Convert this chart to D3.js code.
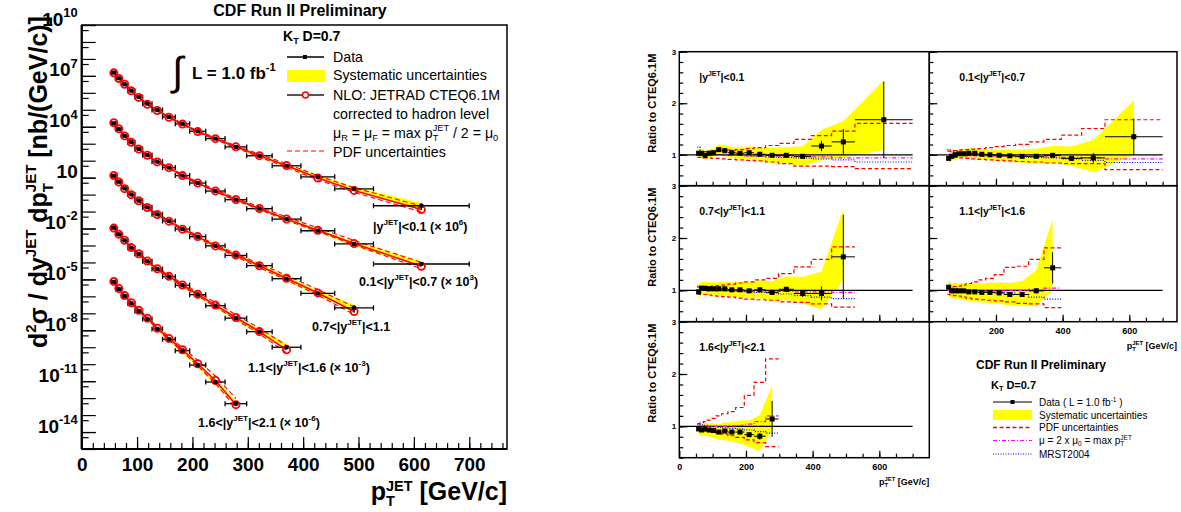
<!DOCTYPE html>
<html><head><meta charset="utf-8">
<script src="https://d3js.org/d3.v7.min.js"></script>
<style>body{margin:0;background:#fff;} text{font-family:"Liberation Sans",Arial,Helvetica,sans-serif;}</style>
</head><body><svg id="c" width="1181" height="512"></svg>
<script>
// ---------------- DATA ----------------
const binEdges   = [54,62,72,83,96,110,127,146,169,195,224,259,298,344,396,457,527,700];
const binCenters = [58,67,77.5,89.5,103,118.5,136.5,157.5,182,209.5,241.5,278.5,321,370,426.5,492,613.5];
const rapidityLabels = ["|y^JET|<0.1","0.1<|y^JET|<0.7","0.7<|y^JET|<1.1","1.1<|y^JET|<1.6","1.6<|y^JET|<2.1"];
const scaleExps = [6, 3, null, -3, -6];
const yTickExps = [10,7,4,1,-2,-5,-8,-11,-14];
const xTickLabels = [0,100,200,300,400,500,600,700];
const ratioXTickLabels = [0,200,400,600];
const ratioYTickLabels = [1,2,3];

// cross sections (already multiplied by the scale factor), nb/(GeV/c)
const xsec1 = [1.55e7,7.2e6,3.2e6,1.35e6,5.6e5,2.3e5,9.8e4,3.8e4,1.48e4,5.4e3,2.0e3,650,195,50,11.2,2.2,0.22];
const xsec2 = [1.6e4,7.4e3,2.9e3,1.23e3,490,214,87,39,13.2,4.8,1.62,0.5,0.148,0.036,0.0074,0.00123,8.1e-5];
const xsec3 = [12.9,5.75,2.34,1.02,0.44,0.178,0.069,0.0275,0.0093,0.0033,9.5e-4,2.6e-4,6.5e-5,1.1e-5,1.5e-6,2.1e-7];
const xsec4 = [0.0112,0.0046,2.0e-3,7.4e-4,3.2e-4,1.17e-4,4.1e-5,1.45e-5,4.5e-6,1.26e-6,2.8e-7,5.2e-8,8.3e-9,1.0e-9];
const xsec5 = [7.2e-6,2.7e-6,1.05e-6,3.9e-7,1.38e-7,4.6e-8,1.2e-8,2.95e-9,6.3e-10,8.9e-11,8.9e-12,4.7e-13];

// data / NLO (CTEQ6.1M)
const ratio1 = [1.03,1.03,0.99,1.03,1.04,1.10,1.08,1.04,1.03,1.04,1.01,0.99,0.99,0.97,1.17,1.25,1.68];
const ratio2 = [0.93,0.97,1.00,1.02,1.02,1.03,1.03,1.01,1.00,0.99,0.98,0.97,0.97,0.99,0.93,0.94,1.35];
const ratio3 = [0.97,1.04,1.04,1.03,1.03,1.03,1.03,1.01,1.01,0.99,1.01,0.96,1.02,0.94,0.94,1.64];
const ratio4 = [1.06,0.99,0.99,0.99,0.99,0.97,0.97,0.96,0.96,0.95,0.92,0.92,0.99,1.43];
const ratio5 = [0.95,0.93,0.95,0.93,0.92,0.89,0.91,0.89,0.89,0.84,0.81,1.14];

// relative statistical errors
const stat1 = [0.004,0.004,0.004,0.005,0.005,0.006,0.007,0.008,0.01,0.012,0.015,0.02,0.03,0.04,0.085,0.2,0.44];
const stat2 = [0.004,0.004,0.004,0.005,0.005,0.005,0.006,0.007,0.008,0.01,0.012,0.015,0.02,0.03,0.04,0.1,0.26];
const stat3 = [0.005,0.005,0.005,0.006,0.006,0.007,0.008,0.01,0.012,0.015,0.02,0.03,0.045,0.07,0.14,0.49];
const stat4 = [0.005,0.005,0.006,0.006,0.007,0.008,0.01,0.012,0.015,0.02,0.03,0.04,0.05,0.21];
const stat5 = [0.006,0.007,0.008,0.009,0.01,0.012,0.015,0.02,0.03,0.04,0.08,0.3];

// relative systematic uncertainties
const sysUp1 = [0.09,0.09,0.08,0.08,0.08,0.09,0.10,0.10,0.11,0.12,0.13,0.15,0.16,0.20,0.27,0.32,0.46];
const sysDn1 = [0.09,0.09,0.08,0.08,0.08,0.09,0.10,0.10,0.11,0.12,0.13,0.15,0.16,0.20,0.23,0.24,0.35];
const sysUp2 = [0.10,0.09,0.09,0.08,0.08,0.09,0.09,0.10,0.10,0.11,0.12,0.13,0.15,0.18,0.25,0.37,0.52];
const sysDn2 = [0.10,0.09,0.09,0.08,0.08,0.09,0.09,0.10,0.10,0.11,0.12,0.13,0.15,0.15,0.15,0.30,0.26];
const sysUp3 = [0.15,0.12,0.12,0.12,0.12,0.12,0.13,0.14,0.15,0.16,0.18,0.22,0.24,0.34,0.44,0.56];
const sysDn3 = [0.13,0.12,0.12,0.12,0.12,0.12,0.13,0.13,0.14,0.15,0.16,0.18,0.20,0.20,0.32,0.27];
const sysUp4 = [0.12,0.15,0.15,0.15,0.16,0.16,0.17,0.18,0.19,0.21,0.24,0.28,0.40,0.65];
const sysDn4 = [0.16,0.14,0.15,0.16,0.17,0.18,0.19,0.20,0.21,0.22,0.23,0.24,0.30,0.30];
const sysUp5 = [0.12,0.12,0.13,0.14,0.15,0.16,0.18,0.21,0.25,0.32,0.50,0.56];
const sysDn5 = [0.12,0.12,0.13,0.14,0.15,0.17,0.19,0.21,0.24,0.28,0.35,0.18];

// PDF uncertainty band (ratio to central CTEQ6.1M)
const pdfUp1 = [1.05,1.05,1.06,1.06,1.07,1.07,1.08,1.09,1.10,1.12,1.14,1.18,1.22,1.30,1.37,1.46,1.61];
const pdfDn1 = [0.95,0.95,0.94,0.94,0.93,0.93,0.92,0.91,0.90,0.89,0.88,0.86,0.83,0.78,0.78,0.77,0.73];
const pdfUp2 = [1.07,1.07,1.08,1.09,1.10,1.10,1.11,1.12,1.14,1.16,1.18,1.20,1.25,1.30,1.38,1.51,1.68];
const pdfDn2 = [0.96,0.95,0.95,0.94,0.94,0.93,0.92,0.91,0.90,0.89,0.88,0.87,0.86,0.84,0.83,0.83,0.71];
const pdfUp3 = [1.06,1.06,1.07,1.07,1.08,1.09,1.10,1.12,1.14,1.16,1.20,1.23,1.32,1.45,1.59,1.83];
const pdfDn3 = [0.93,0.92,0.92,0.91,0.90,0.89,0.88,0.87,0.85,0.83,0.82,0.81,0.78,0.77,0.74,0.68];
const pdfUp4 = [1.05,1.06,1.07,1.08,1.10,1.13,1.16,1.20,1.23,1.30,1.44,1.46,1.59,1.81];
const pdfDn4 = [0.92,0.91,0.90,0.89,0.87,0.85,0.83,0.82,0.81,0.80,0.78,0.75,0.74,0.67];
const pdfUp5 = [1.05,1.07,1.09,1.12,1.15,1.20,1.24,1.28,1.36,1.59,1.84,2.29];
const pdfDn5 = [0.93,0.92,0.91,0.90,0.89,0.87,0.85,0.82,0.79,0.74,0.69,0.61];

// mu = 2 mu0 and MRST2004 ratios
const scale1 = [1.00,0.99,0.99,0.99,0.99,0.99,0.99,0.99,0.99,0.98,0.98,0.98,0.97,0.97,0.96,0.94,0.94];
const scale2 = [1.00,0.99,0.99,0.99,0.99,0.98,0.98,0.98,0.98,0.97,0.97,0.97,0.96,0.96,0.95,0.94,0.92];
const scale3 = [1.00,1.00,1.00,0.99,0.99,0.99,0.99,0.99,0.99,0.99,0.99,0.98,0.98,0.97,0.97,0.96];
const scale4 = [1.00,1.00,0.99,0.99,0.99,0.99,0.99,0.99,0.99,0.99,1.00,1.00,1.02,1.04];
const scale5 = [1.02,1.01,1.00,1.00,1.00,1.00,1.00,1.01,1.02,1.04,1.09,1.20];
const mrst1 = [1.15,1.06,1.03,1.02,1.01,1.00,1.00,0.99,0.99,0.98,0.97,0.96,0.95,0.94,0.92,0.90,0.86];
const mrst2 = [1.10,1.06,1.04,1.03,1.02,1.01,1.00,1.00,0.99,0.98,0.97,0.96,0.95,0.94,0.92,0.89,0.85];
const mrst3 = [1.08,1.05,1.04,1.03,1.02,1.01,1.00,0.99,0.98,0.97,0.96,0.95,0.93,0.90,0.87,0.84];
const mrst4 = [1.06,1.04,1.03,1.02,1.01,1.00,0.99,0.98,0.97,0.96,0.95,0.92,0.87,0.83];
const mrst5 = [1.04,1.03,1.02,1.00,0.99,0.98,0.97,0.96,0.95,0.93,0.90,0.87];

// ---------------- BUILD ----------------
const series = [
  {xs:xsec1, r:ratio1, st:stat1, su:sysUp1, sd:sysDn1, pu:pdfUp1, pd:pdfDn1, mu:scale1, mr:mrst1},
  {xs:xsec2, r:ratio2, st:stat2, su:sysUp2, sd:sysDn2, pu:pdfUp2, pd:pdfDn2, mu:scale2, mr:mrst2},
  {xs:xsec3, r:ratio3, st:stat3, su:sysUp3, sd:sysDn3, pu:pdfUp3, pd:pdfDn3, mu:scale3, mr:mrst3},
  {xs:xsec4, r:ratio4, st:stat4, su:sysUp4, sd:sysDn4, pu:pdfUp4, pd:pdfDn4, mu:scale4, mr:mrst4},
  {xs:xsec5, r:ratio5, st:stat5, su:sysUp5, sd:sysDn5, pu:pdfUp5, pd:pdfDn5, mu:scale5, mr:mrst5}
].map((s,k)=>{
  s.pts = s.xs.map((v,i)=>({x:binCenters[i], lo:binEdges[i], hi:binEdges[i+1], d:v, nlo:v/s.r[i],
    r:s.r[i], st:s.st[i], su:s.su[i], sd:s.sd[i], pu:s.pu[i], pd:s.pd[i], mu:s.mu[i], mr:s.mr[i]}));
  s.label = rapidityLabels[k]; s.exp = scaleExps[k];
  return s;
});

const svg = d3.select('#c');
const FONT = '"Liberation Sans",Arial,sans-serif';

// rich text helper: parts = [string | {t,k:'sup'|'sub'} | {sub,sup}]
function rich(txt, parts, fs, ss, supF) {
  ss = ss || 0.65; supF = supF || 0.45;
  let cur = 0;
  const SUB = fs*0.22, SUP = -fs*supF;
  parts.forEach(p=>{
    if (typeof p === 'string') p = {t:p, k:'n'};
    if (p.sub !== undefined) {
      const a = txt.append('tspan').attr('dy', SUB-cur).attr('font-size', fs*ss).text(p.sub);
      const w = a.node().getComputedTextLength();
      txt.append('tspan').attr('dy', SUP-SUB).attr('dx', -w).attr('font-size', fs*ss).text(p.sup);
      cur = SUP;
    } else {
      const off = p.k==='sup' ? SUP : p.k==='sub' ? SUB : 0;
      txt.append('tspan').attr('dy', off-cur).attr('font-size', p.k==='n'?fs:fs*ss).text(p.t);
      cur = off;
    }
  });
  return txt;
}
function rapParts(lbl) {
  const [a,b] = lbl.split('^JET');
  return [a, {t:'JET',k:'sup'}, b];
}
function styleAxis(g){ g.select('.domain').remove(); g.selectAll('line').attr('stroke','#000').attr('stroke-width',1.2); }

// ================= LEFT PANEL =================
const xL = d3.scaleLinear().domain([0,770]).range([81.7,508]);
const yL = d3.scaleLog().domain([1e-15,1e10]).range([449,25]);
const L = svg.append('g');

const yMinor = d3.axisLeft(yL).tickValues(d3.range(-15,10).map(e=>5*Math.pow(10,e))).tickSize(-7).tickFormat('');
const yMid   = d3.axisLeft(yL).tickValues(d3.range(-15,11).map(e=>Math.pow(10,e))).tickSize(-14).tickFormat('');
const yMajor = d3.axisLeft(yL).tickValues(yTickExps.map(e=>Math.pow(10,e))).tickSize(-14).tickPadding(4);
const xMinor = d3.axisBottom(xL).tickValues(d3.range(0,770,20)).tickSize(-6).tickFormat('');
const xMajor = d3.axisBottom(xL).tickValues(xTickLabels).tickSize(-12).tickPadding(9).tickFormat(d3.format('d'));
L.append('g').attr('transform',`translate(${xL(0)},0)`).call(yMinor).call(styleAxis);
L.append('g').attr('transform',`translate(${xL(0)},0)`).call(yMid).call(styleAxis);
const ym = L.append('g').attr('transform',`translate(${xL(0)},0)`).call(yMajor).call(styleAxis);
ym.selectAll('text').each(function(d){
  const t = d3.select(this); const e = Math.round(Math.log10(d));
  t.text('').attr('font-family',FONT).attr('font-weight','bold').attr('fill','#000').attr('dy','0.4em');
  if (e===1) rich(t,['10'],19); else rich(t,['10',{t:String(e),k:'sup'}],19,0.68);
});
L.append('g').attr('transform',`translate(0,449)`).call(xMinor).call(styleAxis);
const xm = L.append('g').attr('transform',`translate(0,449)`).call(xMajor).call(styleAxis);
xm.selectAll('text').attr('font-family',FONT).attr('font-weight','bold').attr('font-size',19).attr('fill','#000');

// frame
L.append('rect').attr('x',xL(0)).attr('y',25).attr('width',507-xL(0)).attr('height',424)
  .attr('fill','none').attr('stroke','#000').attr('stroke-width',1.5);
L.append('line').attr('x1',xL(0)).attr('x2',xL(0)).attr('y1',25).attr('y2',449).attr('stroke','#000').attr('stroke-width',2.2);
L.append('line').attr('x1',xL(0)).attr('x2',507).attr('y1',449).attr('y2',449).attr('stroke','#000').attr('stroke-width',2.2);

const areaL = d3.area().x(p=>xL(p.x)).y0(p=>yL(p.d*(1-p.sd))).y1(p=>yL(p.d*(1+p.su)));
const lineL = acc => d3.line().x(p=>xL(p.x)).y(acc);
series.forEach(s=>{
  const g = L.append('g');
  g.append('path').attr('d',areaL(s.pts)).attr('fill','#ffff00');
  g.append('path').attr('d',lineL(p=>yL(p.nlo*p.pu))(s.pts)).attr('fill','none').attr('stroke','#ff0000').attr('stroke-width',1.1).attr('stroke-dasharray','5,3');
  g.append('path').attr('d',lineL(p=>yL(p.nlo*p.pd))(s.pts)).attr('fill','none').attr('stroke','#ff0000').attr('stroke-width',1.1).attr('stroke-dasharray','5,3');
  g.append('path').attr('d',lineL(p=>yL(p.nlo))(s.pts)).attr('fill','none').attr('stroke','#ff0000').attr('stroke-width',1.6);
  const e = g.selectAll('g.e').data(s.pts).join('g');
  e.append('line').attr('x1',p=>xL(p.lo)).attr('x2',p=>xL(p.hi)).attr('y1',p=>yL(p.d)).attr('y2',p=>yL(p.d)).attr('stroke','#000').attr('stroke-width',1.3);
  e.append('line').attr('x1',p=>xL(p.lo)).attr('x2',p=>xL(p.lo)).attr('y1',p=>yL(p.d)-2.5).attr('y2',p=>yL(p.d)+2.5).attr('stroke','#000').attr('stroke-width',1.3);
  e.append('line').attr('x1',p=>xL(p.hi)).attr('x2',p=>xL(p.hi)).attr('y1',p=>yL(p.d)-2.5).attr('y2',p=>yL(p.d)+2.5).attr('stroke','#000').attr('stroke-width',1.3);
  e.append('line').attr('x1',p=>xL(p.x)).attr('x2',p=>xL(p.x)).attr('y1',p=>yL(p.d*(1+p.st))).attr('y2',p=>yL(p.d*(1-p.st))).attr('stroke','#000').attr('stroke-width',1.3);
  e.append('circle').attr('cx',p=>xL(p.x)).attr('cy',p=>yL(p.nlo)).attr('r',3.6).attr('fill','none').attr('stroke','#ff0000').attr('stroke-width',1.8);
  e.append('rect').attr('x',p=>xL(p.x)-2).attr('y',p=>yL(p.d)-2).attr('width',4).attr('height',4).attr('fill','#000');
});

// series labels
const labPos = [[373,231],[359,286],[312,331],[248,372],[198,427]];
series.forEach((s,k)=>{
  const t = L.append('text').attr('x',labPos[k][0]).attr('y',labPos[k][1]).attr('font-weight','bold').attr('font-size',12.5);
  const parts = rapParts(s.label);
  if (s.exp!==null) parts.push(' (\u00d7 10',{t:String(s.exp),k:'sup'},')');
  rich(t, parts, 12.5);
});

// title
L.append('text').attr('x',300).attr('y',16).attr('text-anchor','middle').attr('font-weight','bold').attr('font-size',16).text('CDF Run II Preliminary');

// y title
const yt = L.append('text').attr('transform','translate(47,182) rotate(-90)').attr('text-anchor','middle').attr('font-weight','bold').attr('font-size',25);
rich(yt, ['d',{t:'2',k:'sup'},'\u03c3 / dy',{t:'JET',k:'sup'},' dp',{sub:'T',sup:'JET'},' [nb/(GeV/c)]'], 25, 0.6);
// x title
const xt = L.append('text').attr('x',507).attr('y',500).attr('text-anchor','end').attr('font-weight','bold').attr('font-size',25);
rich(xt, ['p',{sub:'T',sup:'JET'},' [GeV/c]'], 25, 0.58, 0.38);

// integral luminosity
L.append('text').attr('x',172).attr('y',85).attr('font-size',40).attr('font-family','"DejaVu Sans",sans-serif').text('\u222b');
rich(L.append('text').attr('x',192).attr('y',79).attr('font-weight','bold').attr('font-size',17), ['L = 1.0 fb',{t:'-1',k:'sup'}], 17);

// legend
rich(L.append('text').attr('x',283).attr('y',41).attr('font-weight','bold').attr('font-size',14), ['K',{t:'T',k:'sub'},'  D=0.7'], 14);
L.append('line').attr('x1',287).attr('x2',324).attr('y1',57).attr('y2',57).attr('stroke','#000').attr('stroke-width',1.3);
L.append('rect').attr('x',303).attr('y',55).attr('width',4).attr('height',4).attr('fill','#000');
L.append('rect').attr('x',287).attr('y',70).attr('width',38).attr('height',12).attr('fill','#ffff00');
L.append('line').attr('x1',287).attr('x2',324).attr('y1',95).attr('y2',95).attr('stroke','#555').attr('stroke-width',2);
L.append('circle').attr('cx',305.5).attr('cy',95).attr('r',3).attr('fill','#fff').attr('stroke','#ff0000').attr('stroke-width',1.5);
L.append('line').attr('x1',287).attr('x2',324).attr('y1',151).attr('y2',151).attr('stroke','#ff0000').attr('stroke-width',1.2).attr('stroke-dasharray','5,3');
const lg = [['Data',62],['Systematic uncertainties',80],['NLO: JETRAD CTEQ6.1M',100],['corrected to hadron level',119],[null,137.5],['PDF uncertainties',156.5]];
lg.forEach(([s,y])=>{
  const t = L.append('text').attr('x',333).attr('y',y).attr('font-size',14.2);
  if (s) t.text(s);
  else rich(t, ['\u03bc',{t:'R',k:'sub'},' = \u03bc',{t:'F',k:'sub'},' = max p',{sub:'T',sup:'JET'},' / 2 = \u03bc',{t:'0',k:'sub'}], 14.2);
});

// ================= RIGHT PANELS =================
const colX = [[679.3,929.3],[929.3,1177]];
const rowY = [[51.7,185.7],[185.7,321.7],[321.7,457.7]];
const panelPos = [[0,0],[1,0],[0,1],[1,1],[0,2]];
const R = svg.append('g');
series.forEach((s,k)=>{
  const [c,r] = panelPos[k];
  const [x0,x1] = colX[c], [y0,y1] = rowY[r];
  const xs = d3.scaleLinear().domain([0,(x1-x0)*3]).range([x0,x1]);
  const ys = d3.scaleLinear().domain([0.4,3]).range([y1,y0]);
  const g = R.append('g');
  const cid = 'cp'+k;
  g.append('clipPath').attr('id',cid).append('rect').attr('x',x0).attr('y',y0).attr('width',x1-x0).attr('height',y1-y0);
  const inner = g.append('g').attr('clip-path',`url(#${cid})`);
  inner.append('path').attr('d', d3.area().x(p=>xs(p.x)).y0(p=>ys(p.r*(1-p.sd))).y1(p=>ys(p.r*(1+p.su)))(s.pts)).attr('fill','#ffff00');
  inner.append('line').attr('x1',xs(0)).attr('x2',xs(700)).attr('y1',ys(1)).attr('y2',ys(1)).attr('stroke','#000').attr('stroke-width',1.2);
  const step = acc => d3.line().x(d=>xs(d[0])).y(d=>ys(d[1]))(s.pts.flatMap(p=>[[p.lo,acc(p)],[p.hi,acc(p)]]));
  inner.append('path').attr('d',step(p=>p.mr)).attr('fill','none').attr('stroke','#0000ff').attr('stroke-width',1.2).attr('stroke-dasharray','1,1.6');
  inner.append('path').attr('d',step(p=>p.mu)).attr('fill','none').attr('stroke','#ff00ff').attr('stroke-width',1.2).attr('stroke-dasharray','4,2,1,2');
  inner.append('path').attr('d',step(p=>p.pu)).attr('fill','none').attr('stroke','#ff0000').attr('stroke-width',1.2).attr('stroke-dasharray','4,2.5');
  inner.append('path').attr('d',step(p=>p.pd)).attr('fill','none').attr('stroke','#ff0000').attr('stroke-width',1.2).attr('stroke-dasharray','4,2.5');
  const e = inner.selectAll('g.e').data(s.pts).join('g');
  e.append('line').attr('x1',p=>xs(p.lo)).attr('x2',p=>xs(p.hi)).attr('y1',p=>ys(p.r)).attr('y2',p=>ys(p.r)).attr('stroke','#000').attr('stroke-width',1);
  e.append('line').attr('x1',p=>xs(p.x)).attr('x2',p=>xs(p.x)).attr('y1',p=>ys(p.r*(1+p.st))).attr('y2',p=>ys(p.r*(1-p.st))).attr('stroke','#000').attr('stroke-width',1);
  e.append('rect').attr('x',p=>xs(p.x)-2.5).attr('y',p=>ys(p.r)-2.5).attr('width',5).attr('height',5).attr('fill','#000');

  const yMi = d3.axisLeft(ys).tickValues(d3.range(4,31,2).map(v=>v/10)).tickSize(-4).tickFormat('');
  const yMa = d3.axisLeft(ys).tickValues(ratioYTickLabels).tickSize(-8).tickPadding(3).tickFormat(c===0?d3.format('d'):'');
  g.append('g').attr('transform',`translate(${x0},0)`).call(yMi).call(styleAxis);
  const ya = g.append('g').attr('transform',`translate(${x0},0)`).call(yMa).call(styleAxis);
  ya.selectAll('text').attr('font-family',FONT).attr('font-weight','bold').attr('font-size',8).attr('fill','#000');
  const xMi = d3.axisBottom(xs).tickValues(d3.range(50,(x1-x0)*3,50)).tickSize(-4).tickFormat('');
  const showX = (k===3 || k===4);
  const xMa = d3.axisBottom(xs).tickValues(ratioXTickLabels.filter(v=>v>0 || k===4)).tickSize(-7).tickPadding(6).tickFormat(showX?d3.format('d'):'');
  g.append('g').attr('transform',`translate(0,${y1})`).call(xMi).call(styleAxis);
  const xa = g.append('g').attr('transform',`translate(0,${y1})`).call(xMa).call(styleAxis);
  xa.selectAll('text').attr('font-family',FONT).attr('font-weight','bold').attr('font-size',9).attr('fill','#000');
  g.append('rect').attr('x',x0).attr('y',y0).attr('width',x1-x0).attr('height',y1-y0).attr('fill','none').attr('stroke','#000').attr('stroke-width',1.5);

  const lx = c===0 ? x0+20 : x0+30;
  rich(g.append('text').attr('x',lx).attr('y',y0+29).attr('font-weight','bold').attr('font-size',10.5), rapParts(s.label), 10.5);
  if (c===0) g.append('text').attr('transform',`translate(656,${y0+2}) rotate(-90)`).attr('text-anchor','end').attr('font-weight','bold').attr('font-size',11).text('Ratio to CTEQ6.1M');
  if (showX) rich(g.append('text').attr('x',x1).attr('y',y1+27).attr('text-anchor','end').attr('font-weight','bold').attr('font-size',9), ['p',{sub:'T',sup:'JET'},' [GeV/c]'], 9);
});

// right legend
R.append('text').attr('x',976).attr('y',369).attr('font-weight','bold').attr('font-size',12).text('CDF Run II Preliminary');
rich(R.append('text').attr('x',991).attr('y',389).attr('font-weight','bold').attr('font-size',11), ['K',{t:'T',k:'sub'},'  D=0.7'], 11);
R.append('line').attr('x1',993).attr('x2',1032).attr('y1',402).attr('y2',402).attr('stroke','#000').attr('stroke-width',1.2);
R.append('rect').attr('x',1010.5).attr('y',400).attr('width',4).attr('height',4).attr('fill','#000');
R.append('rect').attr('x',993).attr('y',410).attr('width',39).attr('height',10).attr('fill','#ffff00');
R.append('line').attr('x1',993).attr('x2',1032).attr('y1',427.5).attr('y2',427.5).attr('stroke','#ff0000').attr('stroke-width',1.3).attr('stroke-dasharray','4,2.5');
R.append('line').attr('x1',993).attr('x2',1032).attr('y1',440.5).attr('y2',440.5).attr('stroke','#ff00ff').attr('stroke-width',1.2).attr('stroke-dasharray','4,2,1,2');
R.append('line').attr('x1',993).attr('x2',1032).attr('y1',454).attr('y2',454).attr('stroke','#0000ff').attr('stroke-width',1.2).attr('stroke-dasharray','1,1.5');
const rl = R.append('g').attr('font-size',10);
rich(rl.append('text').attr('x',1039).attr('y',406), ['Data  ( L = 1.0 fb',{t:'-1',k:'sup'},' )'], 10);
rl.append('text').attr('x',1039).attr('y',419).text('Systematic uncertainties');
rl.append('text').attr('x',1039).attr('y',431).text('PDF uncertainties');
rich(rl.append('text').attr('x',1039).attr('y',444), ['\u03bc = 2 x \u03bc',{t:'0',k:'sub'},' = max p',{sub:'T',sup:'JET'}], 10);
rl.append('text').attr('x',1039).attr('y',458).text('MRST2004');
</script></body></html>
